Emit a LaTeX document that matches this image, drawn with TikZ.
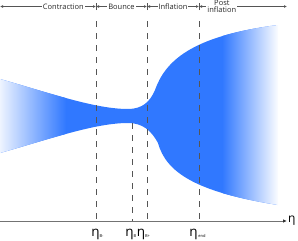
\documentclass[tikz,border=0pt]{standalone}
\usepackage{fontspec}
\setmainfont{Open Sans}
\usepackage{tikz}
\usetikzlibrary{arrows.meta,positioning}
\definecolor{fieldblue}{RGB}{48,120,255}
\definecolor{guidegray}{RGB}{85,85,85}
\newcommand{\etasub}[1]{η\rlap{\fontsize{4}{5}\selectfont\raisebox{-0.6pt}{#1}}}

\begin{document}
\begin{tikzpicture}[x=1pt,y=-1pt,font=\fontsize{7.5}{8}\selectfont,>={Latex[length=3pt,width=3pt]}]
  \tikzset{
    era/.style={<->,guidegray,line width=0.6pt},
    eralabel/.style={fill=white,inner sep=1pt,text=black!85,align=center},
    eratick/.style={guidegray,line width=0.6pt},
    epoch/.style={guidegray,dash pattern=on 5.5pt off 6.5pt,line width=0.9pt},
    timeaxis/.style={->,black!55,line width=0.9pt,>={Latex[length=4pt,width=3.5pt,black!80]}},
    etalabel/.style={anchor=base,inner sep=0pt,font=\fontsize{13.5}{14}\selectfont}
  }
  \useasboundingbox (0,0) rectangle (298,241);
  % the blue band
  \begin{scope}
    \clip (0,79) .. controls (50,93) and (95,109) .. (128,109)
      .. controls (142,109) and (150,102) .. (155,90)
      .. controls (165,62) and (190,36) .. (278,25)
      -- (278,205) .. controls (195,192) and (166,172) .. (158,143)
      .. controls (151,130) and (142,123) .. (128,123)
      .. controls (95,123) and (50,139) .. (0,153) -- cycle;
    \fill[fieldblue] (0,0) rectangle (278,241);
    \shade[left color=white,right color=fieldblue] (-6,0) rectangle (66,241);
    \shade[left color=fieldblue,right color=white] (222,0) rectangle (279,241);
  \end{scope}
  % phases along the top
  \coordinate (start) at (0,6.5);
  \coordinate (bminus) at (96,6.5);
  \coordinate (bplus) at (147,6.5);
  \coordinate (bend) at (199,6.5);
  \coordinate (finish) at (287,6.5);
  \draw[era] (start) -- node[eralabel,pos=0.66] (contraction) {Contraction} (bminus);
  \draw[era] (bminus) -- node[eralabel] (bounce) {Bounce} (bplus);
  \draw[era] (bplus) -- node[eralabel] (inflation) {Inflation} (bend);
  \draw[era] (bend) -- node[eralabel,pos=0.26] (postinflation) {Post\\[-1.5pt]inflation} (finish);
  \foreach \c in {bminus,bplus,bend}
    \draw[eratick] ([yshift=-3.5pt]\c) -- ([yshift=3.5pt]\c);
  % time axis
  \coordinate (origin) at (0,221);
  \coordinate (axisend) at (287,221);
  \draw[timeaxis] (origin) -- (axisend);
  \node[anchor=west,inner sep=1pt,font=\fontsize{12}{12}\selectfont] (eta) at (axisend) {η};
  % epoch lines
  \coordinate (topBm) at (96,21);
  \coordinate (topB) at (132,123);
  \coordinate (topBp) at (147,21);
  \coordinate (topEnd) at (199.5,21);
  \coordinate (axBm) at (96,221);
  \coordinate (axB) at (132,221);
  \coordinate (axBp) at (147,221);
  \coordinate (axEnd) at (199.5,221);
  \draw[epoch] (topBm) -- (axBm);
  \draw[epoch] (topB) -- (axB);
  \draw[epoch] (topBp) -- (axBp);
  \draw[epoch] (topEnd) -- (axEnd);
  % labels under the axis
  \node[etalabel] (etaBm) at (95.5,236.5) {\etasub{B-}};
  \node[etalabel] (etaB) at (129.5,236.5) {\etasub{B}};
  \node[etalabel] (etaBp) at (141,236.5) {\etasub{B+}};
  \node[etalabel] (etaEnd) at (193.5,236.5) {\etasub{\,end}};
\end{tikzpicture}
\end{document}
